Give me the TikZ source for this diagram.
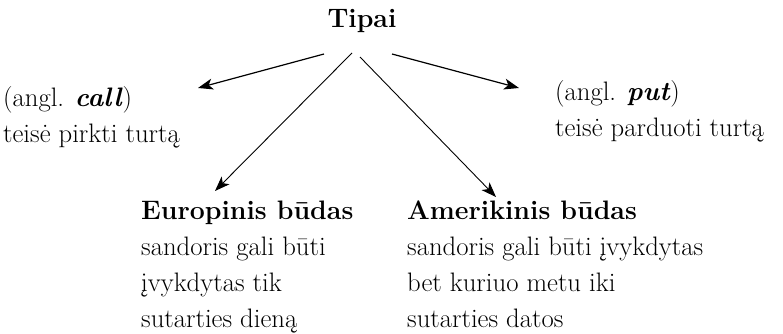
\documentclass[tikz,border=0pt]{standalone}
\usepackage{fontspec}
\usepackage{tikz}
\usetikzlibrary{arrows.meta}

\begin{document}
\begin{tikzpicture}[>={Stealth[length=15bp,width=11bp,inset=4bp]},line join=bevel,
  txt/.style={inner sep=0pt,align=left,anchor=north west,font=\fontsize{26.7bp}{36bp}\selectfont},
  head/.style={inner sep=0pt,anchor=base,font=\fontsize{26.7bp}{36bp}\selectfont\bfseries},
  arr/.style={black,->,line width=1.2bp},
  darr/.style={black,->,line width=0.9bp}]
%%
\useasboundingbox (0bp,0bp) rectangle (783bp,334bp);
\node (node_tipai) at (362bp,306bp) [head] {Tipai};
  \node (node_call) at (3bp,253.2bp) [txt] {\strut(angl. \textbf{\textit{call}})\\teisė pirkti turtą};
  \node (node_put) at (555bp,259.2bp) [txt] {\strut(angl. \textbf{\textit{put}})\\teisė parduoti turtą};
  \node (node_euro) at (141bp,140.2bp) [txt] {\strut\textbf{Europinis būdas}\\sandoris gali būti\\įvykdytas tik\\sutarties dieną};
  \node (node_amer) at (407bp,140.2bp) [txt] {\strut\textbf{Amerikinis būdas}\\sandoris gali būti įvykdytas\\bet kuriuo metu iki\\sutarties datos};
  \coordinate (out_call) at (324bp,280bp);
  \coordinate (out_euro) at (352bp,281bp);
  \coordinate (out_amer) at (360bp,277bp);
  \coordinate (out_put) at (392bp,280bp);
  \coordinate (in_call) at (198bp,246bp);
  \coordinate (in_euro) at (215bp,143bp);
  \coordinate (in_amer) at (496bp,137bp);
  \coordinate (in_put) at (519bp,246bp);
  \draw [arr] (out_call) -- (in_call);
  \draw [arr] (out_put) -- (in_put);
  \draw [darr] (out_euro) -- (in_euro);
  \draw [darr] (out_amer) -- (in_amer);
%
\end{tikzpicture}
\end{document}
